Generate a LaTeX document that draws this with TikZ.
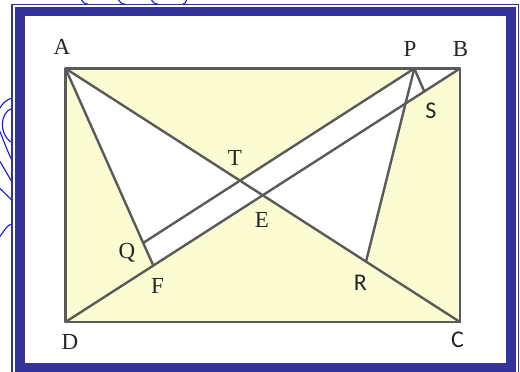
\documentclass[tikz,border=0pt]{standalone}
\usepackage{fontspec}
\newfontfamily\labserif{Liberation Serif}
\newfontfamily\labsans{Carlito}
\usetikzlibrary{calc}
\definecolor{framebl}{RGB}{51,51,153}
\definecolor{paleyel}{RGB}{252,252,210}
\definecolor{edgegray}{RGB}{90,90,90}
\definecolor{scrib}{RGB}{20,20,240}
\begin{document}
\begin{tikzpicture}[x=1pt,y=-1pt,
  edge/.style={draw=edgegray,line width=2.4pt,line cap=round,line join=round},
  serlab/.style={font=\labserif\fontsize{23}{27}\selectfont,text=black!85,inner sep=0pt,text height=15.2pt,text depth=0pt},
  sanlab/.style={font=\labsans\fontsize{24}{28}\selectfont,text=black!85,inner sep=0pt,text height=15.4pt,text depth=0pt},
  scribble/.style={draw=scrib,line width=1.1pt}]
\useasboundingbox (0,0) rectangle (520,372);
\begin{scope}
\clip (0,0) rectangle (520,372);
\fill[white] (0,0) rectangle (520,372);
% blue scribbles outside the frame
\draw[scribble] (11.7,98) .. controls (6,100) and (2,104) .. (0,108);
\draw[scribble] (11.7,108.5) .. controls (0,113) and (-1,133) .. (10.5,142);
\draw[scribble] (0,131.5) .. controls (4,142) and (8,152) .. (11.7,160);
\draw[scribble] (0,161.5) -- (11.7,181.5);
\draw[scribble] (0,188.5) -- (11.7,200);
\draw[scribble] (0,236.5) .. controls (4,231) and (7,225) .. (11.7,224);
\draw[scribble] (81.5,0) .. controls (83,3) and (85,4) .. (88,4.2);
\draw[scribble] (118.5,0) .. controls (120,3) and (122,4) .. (125.5,4.2);
\draw[scribble] (151.5,0) .. controls (153,3) and (155,4) .. (158,4.2);
\draw[scribble] (186.5,0) .. controls (186,3) and (184.5,4) .. (182.5,4.2);
% frame
\draw[framebl,line width=1.3pt] (12,4.3) rectangle (518.6,400);
\draw[framebl,line width=9.8pt] (19.7,11.4) rectangle (510.9,367.4);
\end{scope}
% points
\coordinate (A) at (65.5,68.5);
\coordinate (B) at (460,68.5);
\coordinate (C) at (460,322);
\coordinate (D) at (65.5,322);
\coordinate (P) at (414.3,68.5);
\coordinate (F) at ($(D)!0.2226!(B)$);
\coordinate (S) at ($(D)!0.9095!(B)$);
\coordinate (R) at ($(A)!0.7617!(C)$);
\coordinate (Q) at ($(A)!0.885!(F)$);
\coordinate (E) at (intersection of A--C and D--B);
\coordinate (T) at (intersection of A--C and P--Q);
\coordinate (X) at (intersection of P--R and D--B);
% fills
\fill[paleyel] (A) rectangle (C);
\fill[white] (A) -- (F) -- (B) -- (P) -- (T) -- cycle;
\fill[white] (E) -- (X) -- (R) -- cycle;
% lines
\draw[edge] (A) -- (B) -- (C) -- (D) -- cycle;
\draw[edge] (A) -- (C);
\draw[edge] (D) -- (B);
\draw[edge] (A) -- (F);
\draw[edge] (Q) -- (P);
\draw[edge] (P) -- (R);
\draw[edge] (P) -- (S);
% labels
\node[serlab] (lA) at (62,47) {A};
\node[serlab] (lP) at (410,49) {P};
\node[serlab] (lB) at (460.5,48.5) {B};
\node[sanlab] (lS) at (431,111) {S};
\node[serlab] (lT) at (235,158) {T};
\node[serlab] (lE) at (262,220) {E};
\node[serlab] (lQ) at (127,251) {Q};
\node[serlab] (lF) at (157.5,286) {F};
\node[serlab] (lD) at (70,342) {D};
\node[sanlab] (lR) at (360.5,283) {R};
\node[sanlab] (lC) at (457.5,340) {C};
\end{tikzpicture}
\end{document}
